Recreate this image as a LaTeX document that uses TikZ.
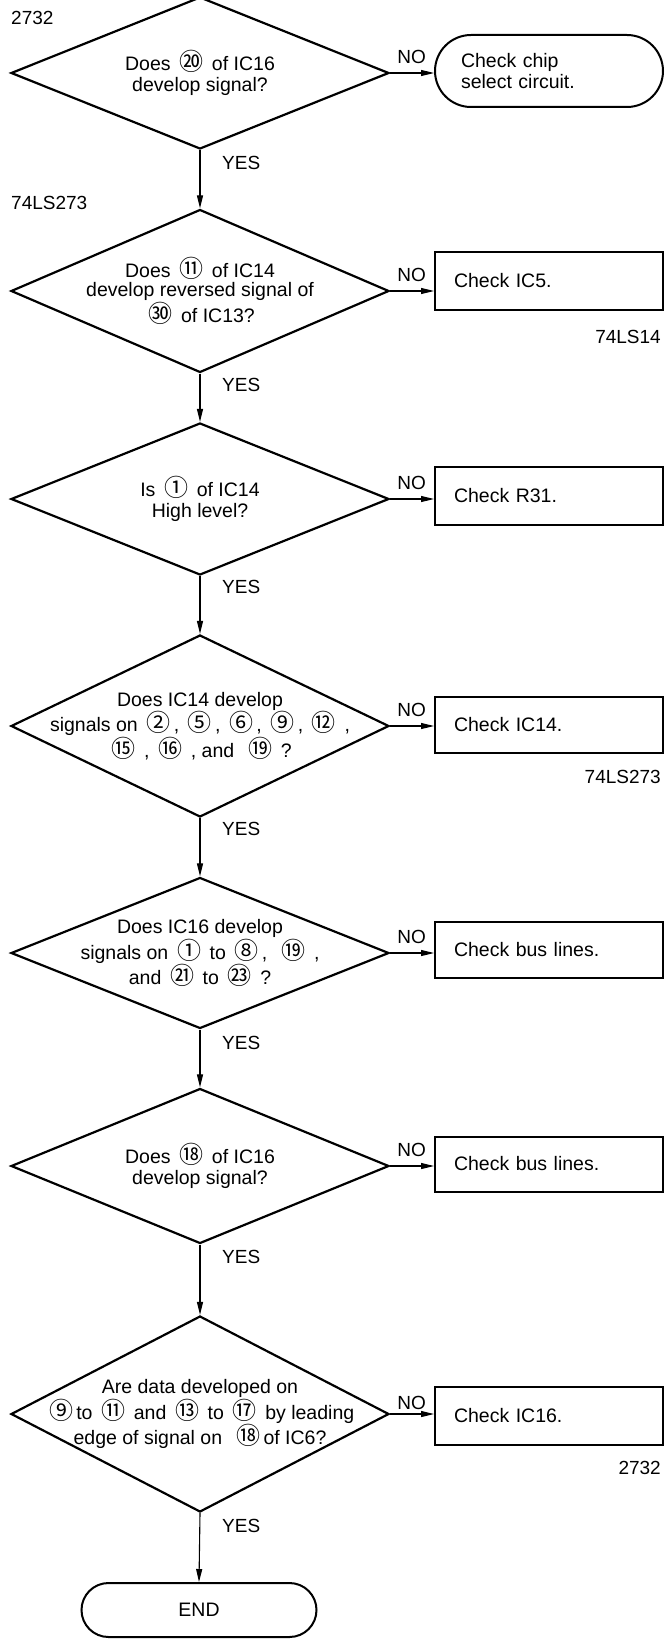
\documentclass[tikz,border=0pt]{standalone}
\usepackage{fontspec}
\setmainfont{Liberation Sans}
\newfontfamily\cjk{Noto Sans CJK SC}
\usetikzlibrary{shapes.geometric,arrows.meta,positioning}
\newcommand\pin[1]{\,{\cjk\fontsize{24}{21}\selectfont #1}\,}
\begin{document}
\begin{tikzpicture}[x=1pt,y=-1pt,
  decision/.style={diamond,draw,line width=2.2pt,minimum width=378pt,inner sep=0pt},
  ask/.style={align=center,inner sep=0pt,font=\fontsize{19.5}{21}\selectfont},
  check/.style={draw,line width=2pt,minimum width=228pt,text width=190pt,inner xsep=19pt,
    align=left,font=\fontsize{19.5}{21}\selectfont},
  stop/.style={draw,line width=2pt,rounded corners=27pt,minimum width=235pt,minimum height=54pt,
    font=\fontsize{19.5}{21}\selectfont},
  tag/.style={inner sep=1pt,font=\fontsize{19}{19}\selectfont},
  flow/.style={line width=1.1pt,-{Triangle[length=13pt,width=6pt]}}]
  \useasboundingbox (0,0) rectangle (666,1645);
  % decisions
  \node[decision,minimum height=152pt] (d1) at (200,73) {};
  \node[decision,minimum height=163pt] (d2) at (200,291) {};
  \node[decision,minimum height=152pt] (d3) at (200,499) {};
  \node[decision,minimum height=182pt] (d4) at (200,726) {};
  \node[decision,minimum height=151pt] (d5) at (200,953) {};
  \node[decision,minimum height=155pt] (d6) at (200,1166) {};
  \node[decision,minimum height=196pt] (d7) at (200,1414) {};
  \node[ask] (q1) at (d1) {Does \pin{⑳} of IC16\\develop signal?};
  \node[ask,font=\fontsize{19.5}{19}\selectfont] (q2) at (d2)
    {Does \pin{⑪} of IC14\\develop reversed signal of\\\pin{㉚} of IC13?};
  \node[ask] (q3) at (d3) {Is \pin{①} of IC14\\High level?};
  \node[ask] (q4) at (d4)
    {Does IC14 develop\\signals on \pin{②}, \pin{⑤}, \pin{⑥}, \pin{⑨}, \pin{⑫} ,\\\pin{⑮} , \pin{⑯} , and \ \pin{⑲} ?};
  \node[ask] (q5) at (d5)
    {Does IC16 develop\\signals on \pin{①} to \pin{⑧}, \ \pin{⑲} ,\\and \pin{㉑} to \pin{㉓} ?};
  \node[ask] (q6) at (d6) {Does \pin{⑱} of IC16\\develop signal?};
  \node[ask,font=\fontsize{19.5}{20}\selectfont] (q7) at (d7)
    {Are data developed on\\\pin{⑨}to \pin{⑪} and \pin{⑬} to \pin{⑰} by leading\\edge of signal on \ \pin{⑱}of IC6?};
  % checks
  \node[check,rounded corners=36pt,minimum height=72pt,text width=176pt,inner xsep=26pt] (b1) at (549,71)
    {Check chip\\select circuit.};
  \node[check,minimum height=57pt] (b2) at (549,281) {Check IC5.};
  \node[check,minimum height=58pt] (b3) at (549,496) {Check R31.};
  \node[check,minimum height=56pt] (b4) at (549,725) {Check IC14.};
  \node[check,minimum height=56pt] (b5) at (549,950) {Check bus lines.};
  \node[check,minimum height=55pt] (b6) at (549,1164) {Check bus lines.};
  \node[check,minimum height=58pt] (b7) at (549,1416) {Check IC16.};
  \node[stop] (end) at (199,1610) {END};
  % part numbers
  \node[tag,anchor=west] (ic1) at (10,18) {2732};
  \node[tag,anchor=west] (ic2) at (10,203) {74LS273};
  \node[tag,anchor=east] (ic3) at (662,337) {74LS14};
  \node[tag,anchor=east] (ic4) at (662,777) {74LS273};
  \node[tag,anchor=east] (ic5) at (662,1468) {2732};
  % branch labels
  \node[tag,above right=8pt and 6pt of d1.east] (n1) {NO};
  \node[tag,above right=8pt and 6pt of d2.east] (n2) {NO};
  \node[tag,above right=8pt and 6pt of d3.east] (n3) {NO};
  \node[tag,above right=8pt and 6pt of d4.east] (n4) {NO};
  \node[tag,above right=8pt and 6pt of d5.east] (n5) {NO};
  \node[tag,above right=8pt and 6pt of d6.east] (n6) {NO};
  \node[tag,above right=3pt and 6pt of d7.east] (n7) {NO};
  \node[tag,below right=5pt and 21pt of d1.south] (y1) {YES};
  \node[tag,below right=3pt and 21pt of d2.south] (y2) {YES};
  \node[tag,below right=3pt and 21pt of d3.south] (y3) {YES};
  \node[tag,below right=3pt and 21pt of d4.south] (y4) {YES};
  \node[tag,below right=5pt and 21pt of d5.south] (y5) {YES};
  \node[tag,below right=4pt and 21pt of d6.south] (y6) {YES};
  \node[tag,below right=5pt and 21pt of d7.south] (y7) {YES};
  % flow
  \draw[flow] (d1.south) -- (d2.north);
  \draw[flow] (d2.south) -- (d3.north);
  \draw[flow] (d3.south) -- (d4.north);
  \draw[flow] (d4.south) -- (d5.north);
  \draw[flow] (d5.south) -- (d6.north);
  \draw[flow] (d6.south) -- (d7.north);
  \draw[flow] (d7.south) -- (end.north);
  \draw[flow] (d1.east) -- (d1.east -| b1.west);
  \draw[flow] (d2.east) -- (d2.east -| b2.west);
  \draw[flow] (d3.east) -- (d3.east -| b3.west);
  \draw[flow] (d4.east) -- (d4.east -| b4.west);
  \draw[flow] (d5.east) -- (d5.east -| b5.west);
  \draw[flow] (d6.east) -- (d6.east -| b6.west);
  \draw[flow] (d7.east) -- (d7.east -| b7.west);
\end{tikzpicture}
\end{document}
